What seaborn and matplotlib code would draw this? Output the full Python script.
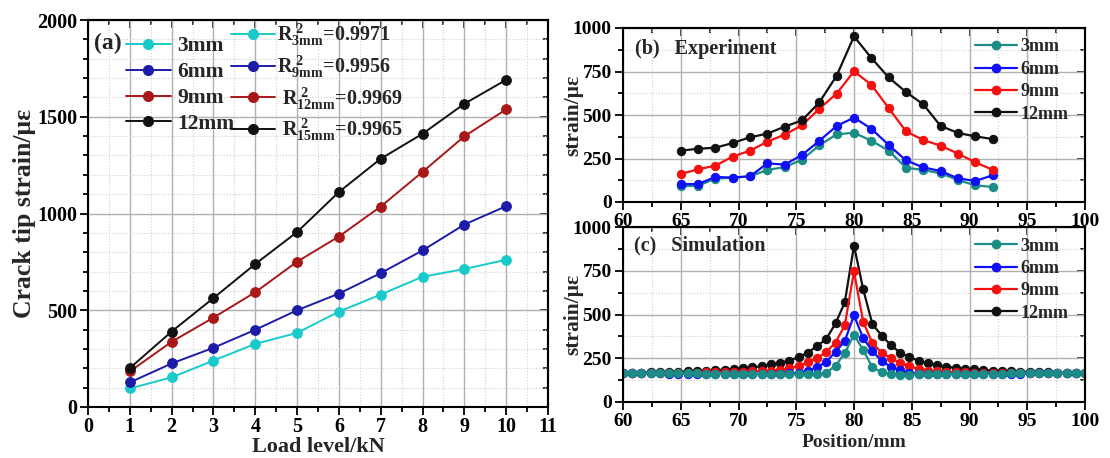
import numpy as np
import pandas as pd
import matplotlib
matplotlib.use('Agg')
import matplotlib.pyplot as plt
import seaborn as sns
from matplotlib.ticker import MultipleLocator
from matplotlib.lines import Line2D

# ---------------- data ----------------
# panel (a)
load_kn = [1, 2, 3, 4, 5, 6, 7, 8, 9, 10]
a_3mm = [96, 153, 240, 326, 383, 493, 581, 673, 713, 761]
a_6mm = [127, 225, 306, 399, 500, 586, 692, 809, 943, 1038]
a_9mm = [184, 337, 462, 593, 751, 881, 1036, 1215, 1399, 1538]
a_12mm = [201, 390, 563, 739, 904, 1111, 1283, 1412, 1567, 1691]
a_labels = ['3mm', '6mm', '9mm', '12mm']
r2_labels = [r'R$^{\ 2}_{3mm}$=0.9971', r'R$^{\ 2}_{9mm}$=0.9956',
             r' R$^{\ 2}_{12mm}$=0.9969', r' R$^{\ 2}_{15mm}$=0.9965']

# panel (b) experiment
b_pos = [65, 66.5, 68, 69.5, 71, 72.5, 74, 75.5, 77, 78.5, 80, 81.5, 83, 84.5,
         86, 87.5, 89, 90.5, 92]
b_3mm = [90, 94, 134, 140, 148, 184, 201, 243, 326, 389, 398, 352, 295, 197,
         184, 165, 126, 96, 86]
b_6mm = [103, 103, 144, 140, 148, 222, 215, 270, 352, 437, 485, 421, 328, 239,
         199, 178, 136, 121, 153]
b_9mm = [161, 188, 209, 261, 295, 347, 387, 441, 536, 623, 751, 674, 540, 406,
         356, 324, 278, 228, 185]
b_12mm = [295, 306, 312, 339, 372, 393, 433, 469, 573, 726, 952, 828, 716, 632,
          561, 437, 397, 377, 362]

# panel (c) simulation
c_pos = [60.0, 60.8, 61.6, 62.4, 63.2, 64.0, 64.8, 65.6, 66.4, 67.2, 68.0, 68.8,
         69.6, 70.4, 71.2, 72.0, 72.8, 73.6, 74.4, 75.2, 76.0, 76.8, 77.6, 78.4,
         79.2, 80.0, 80.8, 81.6, 82.4, 83.2, 84.0, 84.8, 85.6, 86.4, 87.2, 88.0,
         88.8, 89.6, 90.4, 91.2, 92.0, 92.8, 93.6, 94.4, 95.2, 96.0, 96.8, 97.6,
         98.4, 99.2, 100.0]
c_3mm = [166, 166, 165, 165, 165, 164, 164, 163, 163, 162, 162, 161, 161, 160,
         160, 159, 159, 158, 158, 158, 158, 160, 168, 207, 280, 384,
         296, 198, 170, 159, 157, 157, 158, 158, 159, 159, 160, 160, 161, 161,
         162, 162, 163, 163, 164, 164, 165, 165, 165, 166, 166]
c_6mm = [165, 164, 164, 163, 163, 162, 162, 161, 161, 160, 160, 160, 159, 159,
         159, 160, 160, 161, 163, 167, 180, 199, 230, 287, 348, 495,
         364, 290, 234, 201, 182, 168, 162, 160, 159, 159, 159, 160, 160, 160,
         161, 161, 162, 162, 163, 163, 164, 164, 165, 165, 165]
c_9mm = [166, 166, 166, 166, 167, 167, 167, 168, 168, 169, 170, 171, 172, 173,
         175, 177, 180, 183, 192, 208, 227, 251, 285, 340, 438, 746,
         457, 336, 282, 250, 222, 204, 189, 180, 175, 172, 170, 169, 168, 168,
         167, 167, 167, 166, 166, 166, 166, 166, 166, 166, 166]
c_12mm = [166, 167, 168, 169, 170, 171, 173, 175, 177, 179, 182, 185, 189, 193,
          198, 205, 215, 225, 237, 256, 282, 319, 361, 449, 569, 894,
          643, 443, 380, 324, 282, 256, 236, 222, 211, 202, 195, 190, 186, 182,
          179, 177, 175, 173, 171, 170, 169, 168, 167, 167, 166]
bc_labels = ['3mm', '6mm', '9mm', '12mm']

# ---------------- style ----------------
sns.set_theme(style='ticks')
plt.rcParams['font.family'] = ['Liberation Serif', 'DejaVu Serif']
plt.rcParams['font.weight'] = 'bold'
plt.rcParams['axes.labelweight'] = 'bold'
plt.rcParams['mathtext.fontset'] = 'custom'
plt.rcParams['mathtext.rm'] = 'Liberation Serif:bold'
plt.rcParams['mathtext.it'] = 'Liberation Serif:bold'
plt.rcParams['mathtext.bf'] = 'Liberation Serif:bold'
plt.rcParams['axes.edgecolor'] = 'black'
plt.rcParams['axes.linewidth'] = 1.5

a_colors = ['#19CACA', '#1C1CA8', '#A81818', '#111111']
bc_colors = ['#1C8C86', '#1010F5', '#F51010', '#111111']

fig = plt.figure(figsize=(11.1, 4.58), dpi=100)
W, H = 1110, 458


def add_ax(l, r, t, b):
    return fig.add_axes([l / W, 1 - b / H, (r - l) / W, (b - t) / H])


def style(ax, xmaj, xmin, ymaj, ymin, lsize, pad=2):
    for axis, mj, mn in ((ax.xaxis, xmaj, xmin), (ax.yaxis, ymaj, ymin)):
        axis.set_major_locator(MultipleLocator(mj))
        axis.set_minor_locator(MultipleLocator(mn))
    ax.grid(which='major', color='#b0b0b0', lw=1.0, ls='-')
    ax.grid(which='minor', color='#d0d0d0', lw=0.8, ls=':')
    ax.set_axisbelow(True)
    ax.tick_params(which='both', direction='out', width=1.3, colors='black',
                   labelsize=lsize, top=False, right=False, pad=pad)
    ax.tick_params(which='major', length=6)
    ax.tick_params(which='minor', length=3.5)
    for lab in ax.get_xticklabels() + ax.get_yticklabels():
        lab.set_fontweight('bold')
    sx = ax.secondary_xaxis('top')
    sy = ax.secondary_yaxis('right')
    sx.xaxis.set_major_locator(MultipleLocator(xmaj))
    sx.xaxis.set_minor_locator(MultipleLocator(xmin))
    sy.yaxis.set_major_locator(MultipleLocator(ymaj))
    sy.yaxis.set_minor_locator(MultipleLocator(ymin))
    sx.tick_params(which='both', direction='in', labeltop=False, width=1.3)
    sy.tick_params(which='both', direction='in', labelright=False, width=1.3)
    for s in (sx, sy):
        s.tick_params(which='major', length=6)
        s.tick_params(which='minor', length=3.5)


# ---------------- panel (a) ----------------
axa = add_ax(88, 548, 20, 407)
a_series = [a_3mm, a_6mm, a_9mm, a_12mm]
for vals, c in zip(a_series, a_colors):
    sns.lineplot(x=load_kn, y=vals, ax=axa, color=c, marker='o', markersize=7,
                 markeredgecolor=c, linewidth=1.4, legend=False)
axa.set_xlim(0, 11)
axa.set_ylim(0, 2000)
style(axa, 1, 0.5, 500, 100, 14.5, pad=1.5)
axa.set_xlabel('Load level/kN', fontsize=16, fontweight='bold', labelpad=0)
axa.set_ylabel('Crack tip strain/με', fontsize=18.5, fontweight='bold')
axa.yaxis.set_label_coords(-0.112, 0.5)
axa.text(0.014, 0.94, '(a)', transform=axa.transAxes, fontsize=17,
         fontweight='bold', va='center', ha='left')

handles_a = [Line2D([], [], color=c, marker='o', markersize=7, lw=1.4)
             for c in a_colors]
leg1 = axa.legend(handles_a, a_labels, loc='upper left',
                  bbox_to_anchor=(0.082, 0.958), frameon=False, fontsize=15.5,
                  handlelength=2.1, labelspacing=0.27, handletextpad=0.3,
                  borderpad=0, borderaxespad=0)
axa.add_artist(leg1)
leg2 = axa.legend(handles_a, r2_labels, loc='upper left',
                  bbox_to_anchor=(0.31, 0.995), frameon=False, fontsize=14.5,
                  handlelength=2.2, labelspacing=0.25, handletextpad=0.1,
                  borderpad=0, borderaxespad=0)

# ---------------- panel (b) ----------------
axb = add_ax(623, 1085, 28, 202)
b_series = [b_3mm, b_6mm, b_9mm, b_12mm]
for vals, c in zip(b_series, bc_colors):
    sns.lineplot(x=b_pos, y=vals, ax=axb, color=c, marker='o', markersize=6,
                 markeredgecolor=c, linewidth=1.6, legend=False)
axb.set_xlim(60, 100)
axb.set_ylim(0, 1000)
style(axb, 5, 2.5, 250, 125, 14)
axb.set_ylabel('strain/με', fontsize=15.5, fontweight='bold')
axb.yaxis.set_label_coords(-0.085, 0.5)
axb.set_xlabel('')
axb.text(0.025, 0.88, '(b)   Experiment', transform=axb.transAxes, fontsize=14.5,
         fontweight='bold', va='center', ha='left')
handles_bc = [Line2D([], [], color=c, marker='o', markersize=6, lw=1.6)
              for c in bc_colors]
axb.legend(handles_bc, bc_labels, loc='upper left', bbox_to_anchor=(0.762, 0.94),
           frameon=False, fontsize=13, handlelength=2.3, labelspacing=0.3,
           handletextpad=0.2, borderpad=0, borderaxespad=0)

# ---------------- panel (c) ----------------
axc = add_ax(623, 1085, 227, 402)
c_series = [c_3mm, c_6mm, c_9mm, c_12mm]
for vals, c in list(zip(c_series, bc_colors))[::-1]:
    sns.lineplot(x=c_pos, y=vals, ax=axc, color=c, marker='o', markersize=6,
                 markeredgecolor=c, linewidth=1.6, legend=False)
axc.set_xlim(60, 100)
axc.set_ylim(0, 1000)
style(axc, 5, 2.5, 250, 125, 14)
axc.set_ylabel('strain/με', fontsize=15.5, fontweight='bold')
axc.yaxis.set_label_coords(-0.085, 0.5)
axc.set_xlabel('Position/mm', fontsize=14, fontweight='bold', labelpad=3)
axc.text(0.024, 0.897, '(c)   Simulation', transform=axc.transAxes, fontsize=14.5,
         fontweight='bold', va='center', ha='left')
axc.legend(handles_bc, bc_labels, loc='upper left', bbox_to_anchor=(0.762, 0.94),
           frameon=False, fontsize=13, handlelength=2.3, labelspacing=0.3,
           handletextpad=0.2, borderpad=0, borderaxespad=0)

fig.savefig('out.png', dpi=100)
